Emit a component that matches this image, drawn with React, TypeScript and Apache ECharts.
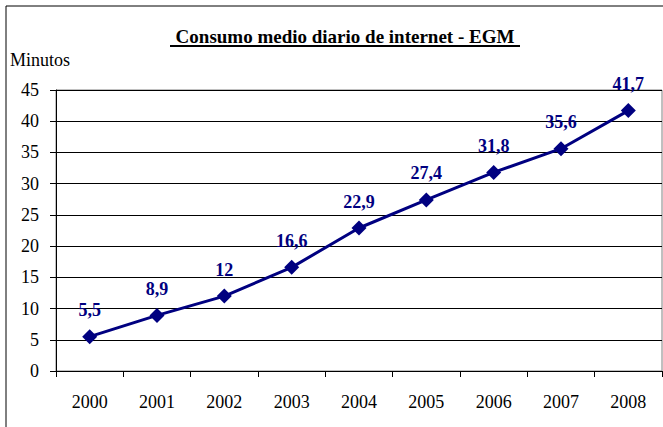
import React, { useEffect, useRef } from "react";
import * as echarts from "echarts";

const years = ["2000", "2001", "2002", "2003", "2004", "2005", "2006", "2007", "2008"];
const minutes = [5.5, 8.9, 12, 16.6, 22.9, 27.4, 31.8, 35.6, 41.7];
const titleText = "Consumo medio diario de internet - EGM";
const yAxisName = "Minutos";

const SERIF = "Liberation Serif";
const NAVY = "#000080";

export default function App() {
  const ref = useRef<HTMLDivElement>(null);
  useEffect(() => {
    if (!ref.current) return;
    const chart = echarts.init(ref.current, undefined, { renderer: "svg" });
    chart.setOption({
      animation: false,
      backgroundColor: "#ffffff",
      textStyle: { fontFamily: SERIF },
      grid: {
        left: 56,
        right: 1,
        top: 90,
        bottom: 56,
        show: true,
        borderColor: "#808080",
        borderWidth: 1,
        backgroundColor: "transparent",
      },
      graphic: [
        {
          type: "rect",
          shape: { x: 6, y: 6, width: 700, height: 500 },
          style: { fill: "none", stroke: "#000", lineWidth: 1 },
          silent: true,
        },
        {
          type: "text",
          x: 345,
          y: 36,
          style: {
            text: titleText,
            fontFamily: SERIF,
            fontSize: 19,
            fontWeight: "bold",
            fill: "#000",
            align: "center",
            verticalAlign: "middle",
          },
        },
        {
          type: "line",
          shape: { x1: 170, y1: 46, x2: 520, y2: 46 },
          style: { stroke: "#000", lineWidth: 2 },
        },
        {
          type: "text",
          x: 10,
          y: 60,
          style: {
            text: yAxisName,
            fontFamily: SERIF,
            fontSize: 18,
            fill: "#000",
            align: "left",
            verticalAlign: "middle",
          },
        },
      ],
      xAxis: {
        type: "category",
        data: years,
        boundaryGap: true,
        axisLine: { show: true, lineStyle: { color: "#000", width: 1 } },
        axisTick: { show: true, length: 6, alignWithLabel: false, lineStyle: { color: "#000" } },
        axisLabel: { color: "#000", fontFamily: SERIF, fontSize: 18, margin: 22 },
        splitLine: { show: false },
      },
      yAxis: {
        type: "value",
        min: 0,
        max: 45,
        interval: 5,
        axisLine: { show: true, lineStyle: { color: "#000", width: 1 } },
        axisTick: { show: true, length: 6, lineStyle: { color: "#000" } },
        axisLabel: { color: "#000", fontFamily: SERIF, fontSize: 18, margin: 17 },
        splitLine: { show: true, lineStyle: { color: "#000", width: 1 } },
      },
      series: [
        {
          type: "line",
          data: minutes,
          symbol: "diamond",
          symbolSize: 15,
          itemStyle: { color: NAVY },
          lineStyle: { color: NAVY, width: 3 },
          label: {
            show: true,
            position: "top",
            distance: 10,
            color: NAVY,
            fontFamily: SERIF,
            fontWeight: "bold",
            fontSize: 18,
            formatter: (p: any) => String(p.value).replace(".", ","),
          },
        },
      ],
    });
    return () => chart.dispose();
  }, []);
  return (
    <div
      ref={ref}
      style={{ position: "fixed", left: 0, top: 0, width: 663, height: 427 }}
    />
  );
}
